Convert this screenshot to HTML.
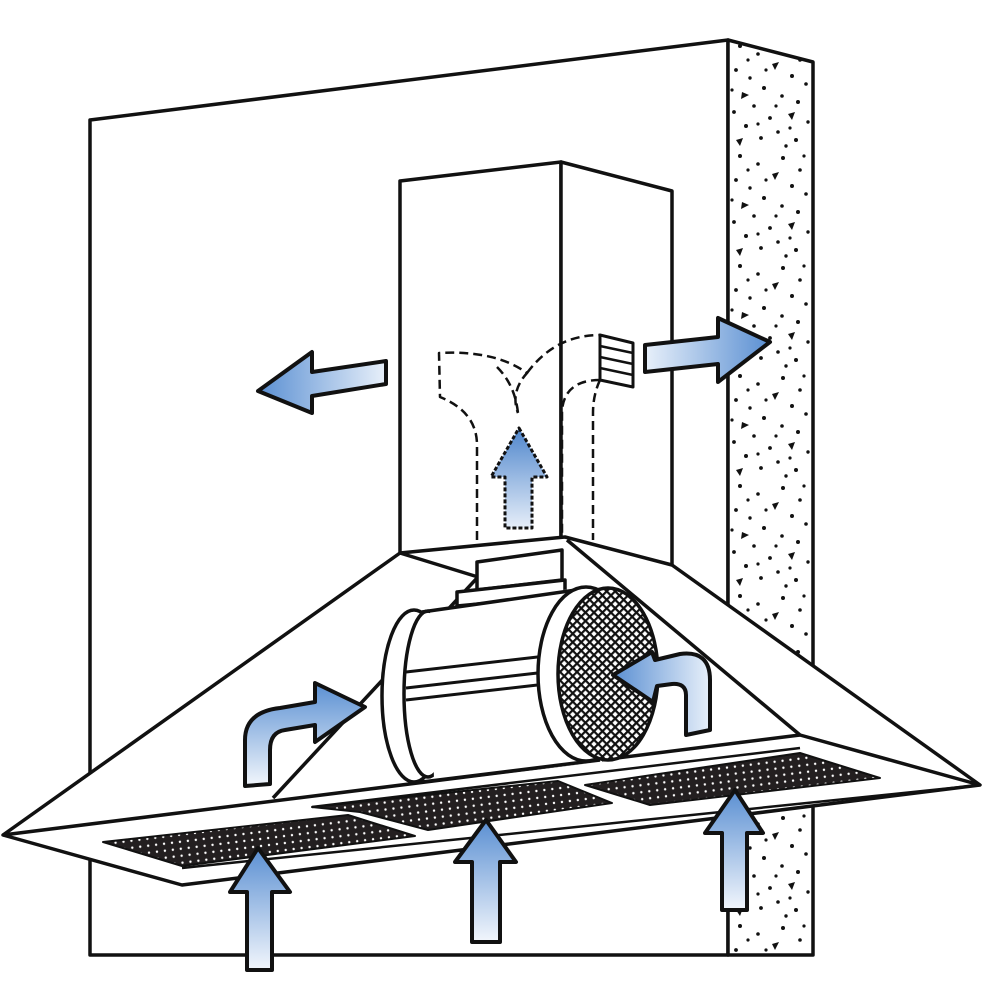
<!DOCTYPE html>
<html><head><meta charset="utf-8"><style>html,body{margin:0;padding:0;background:#fff}svg{display:block}</style></head>
<body>
<svg width="1000" height="1000" viewBox="0 0 1000 1000" xmlns="http://www.w3.org/2000/svg">
<defs>
<linearGradient id="gv" x1="0" y1="0" x2="0" y2="1"><stop offset="0" stop-color="#5a8fd2"/><stop offset="1" stop-color="#f2f6fc"/></linearGradient>
<linearGradient id="gh" x1="0" y1="0" x2="1" y2="0"><stop offset="0" stop-color="#5a8fd2"/><stop offset="1" stop-color="#e8f0fa"/></linearGradient>
<linearGradient id="gh2" x1="1" y1="0" x2="0" y2="0"><stop offset="0" stop-color="#5a8fd2"/><stop offset="1" stop-color="#e8f0fa"/></linearGradient>
<linearGradient id="gd" x1="0" y1="0" x2="0" y2="1"><stop offset="0" stop-color="#4f86cc"/><stop offset="1" stop-color="#e6eef9"/></linearGradient>
<pattern id="perf" width="8" height="7" patternUnits="userSpaceOnUse" patternTransform="rotate(-7)"><rect width="8" height="7" fill="#231f20"/><circle cx="4" cy="3.5" r="1.2" fill="#fff"/></pattern>
<pattern id="mesh" width="6" height="6" patternUnits="userSpaceOnUse" patternTransform="rotate(45)"><rect width="6" height="6" fill="#fff"/><rect x="0" y="0" width="6" height="2.2" fill="#111"/><rect x="0" y="0" width="2.2" height="6" fill="#111"/></pattern>
<pattern id="conc" x="728" y="40" width="85" height="110" patternUnits="userSpaceOnUse">
<rect width="85" height="110" fill="#fff"/>
<g fill="#111">
<circle cx="12" cy="6" r="2"/><circle cx="30" cy="14" r="1.8"/><circle cx="55" cy="8" r="2"/><circle cx="72" cy="20" r="1.8"/>
<polygon points="44,24 51,22 47,30"/><circle cx="8" cy="30" r="1.9"/><circle cx="22" cy="38" r="1.7"/><circle cx="64" cy="36" r="2"/>
<circle cx="78" cy="44" r="1.8"/><circle cx="36" cy="48" r="2"/><polygon points="14,52 21,55 13,59"/><circle cx="54" cy="56" r="1.8"/>
<circle cx="70" cy="62" r="2"/><circle cx="26" cy="66" r="1.8"/><circle cx="6" cy="72" r="1.9"/><polygon points="60,74 67,72 64,80"/>
<circle cx="42" cy="78" r="1.9"/><circle cx="80" cy="82" r="1.7"/><circle cx="18" cy="86" r="2"/><circle cx="50" cy="92" r="1.8"/>
<circle cx="33" cy="98" r="1.9"/><circle cx="68" cy="100" r="2"/><polygon points="8,100 15,98 12,106"/><circle cx="58" cy="106" r="1.7"/>
<circle cx="38" cy="30" r="1.6"/><circle cx="76" cy="6" r="1.6"/><circle cx="4" cy="50" r="1.6"/><circle cx="30" cy="84" r="1.6"/>
<circle cx="48" cy="66" r="1.6"/><circle cx="62" cy="88" r="1.6"/><circle cx="20" cy="20" r="1.6"/>
</g></pattern>
</defs>
<g stroke="#111" stroke-width="3.5" fill="none" stroke-linejoin="round">
<polygon points="90,120 728,40 728,955 90,955" fill="#fff"/>
<polygon points="728,40 813,62 813,955 728,955" fill="url(#conc)"/>
<polygon points="400,181 561,162 561,553 400,553" fill="#fff"/>
<polygon points="561,162 672,191 672,565 561,553" fill="#fff"/>
<g stroke-width="2.5" stroke-dasharray="9,5">
<path d="M477,540 L477,445 Q477,412 440,397 L439,353 Q495,350 527,373 Q510,392 518,413"/>
<path d="M497,367 Q515,385 518,413"/>
<path d="M527,373 Q555,335 600,335"/>
<path d="M600,380 Q565,380 562,410 L562,540"/>
<path d="M600,380 Q593,395 593,413 L593,540"/>
</g>
<polygon points="600,335 633,343 633,387 600,380" fill="#fff" stroke-width="3"/>
<g stroke-width="2.5"><line x1="600" y1="346" x2="633" y2="353"/><line x1="600" y1="357" x2="633" y2="364"/><line x1="600" y1="368" x2="633" y2="375"/></g>
<path d="M519,428 L547,477 L532,477 L532,528 L505,528 L505,477 L491,477 Z" fill="url(#gd)" stroke-width="3" stroke-dasharray="4,2"/>
<path d="M258,391 L312,352 L312,372 L386,361 L386,384 L312,396 L312,413 Z" fill="url(#gh)" stroke-width="4"/>
<path d="M770,342 L718,318 L718,337 L645,345 L645,372 L718,364 L718,382 Z" fill="url(#gh2)" stroke-width="4"/>
<polygon points="3,835 400,553 565,537 672,565 980,785 182,885" fill="#fff"/>
<line x1="400" y1="553" x2="478" y2="577"/>
<line x1="478" y1="577" x2="273" y2="798"/>
<line x1="567" y1="540" x2="800" y2="735"/>
<line x1="3" y1="835" x2="800" y2="735"/>
<line x1="800" y1="735" x2="980" y2="785"/>
<line x1="182" y1="868" x2="980" y2="785" stroke-width="2.5"/>
<line x1="312" y1="807" x2="800" y2="748" stroke-width="2.5"/>
<polygon points="312,807 558,781 612,803 428,830 360,812" fill="url(#perf)" stroke-width="2"/>
<polygon points="585,785 800,753 880,778 650,805" fill="url(#perf)" stroke-width="2"/>
<polygon points="103,842 348,815 415,836 182,866" fill="url(#perf)" stroke-width="2"/>
<polygon points="477,562 562,550 562,580 477,590" fill="#fff"/>
<polygon points="457,592 565,580 565,596 457,606" fill="#fff"/>
<ellipse cx="414" cy="696" rx="32" ry="86" fill="#fff"/>
<ellipse cx="428" cy="694" rx="24" ry="83" fill="#fff"/>
<path d="M430,610 L590,586 L602,762 L434,781 Z" fill="#fff" stroke="none"/>
<path d="M422,612 L590,588"/>
<path d="M422,782 L600,760"/>
<path d="M406,672 L555,655 M406,688 L555,671 M406,700 L555,683" stroke-width="3"/>
<ellipse cx="586" cy="674" rx="48" ry="87" fill="#fff"/>
<ellipse cx="608" cy="674" rx="50" ry="86" fill="url(#mesh)"/>
<path d="M245,786 L245,740 Q245,712 280,708 L315,702 L315,683 L365,707 L315,742 L315,725 L285,730 Q270,732 270,750 L270,784 Z" fill="url(#gv)" stroke-width="4"/>
<path d="M613,675 L652,652 L655,660 L680,654 Q710,650 710,680 L710,730 L686,735 L686,695 Q686,683 672,684 L657,686 L653,702 Z" fill="url(#gh)" stroke-width="4"/>
<path d="M258,848 L290,892 L272,892 L272,970 L247,970 L247,892 L230,892 Z" fill="url(#gv)" stroke-width="4"/>
<path d="M486,820 L516,862 L500,862 L500,942 L472,942 L472,862 L455,862 Z" fill="url(#gv)" stroke-width="4"/>
<path d="M735,790 L763,833 L747,833 L747,910 L722,910 L722,833 L705,833 Z" fill="url(#gv)" stroke-width="4"/>
</g>
</svg>
</body></html>
